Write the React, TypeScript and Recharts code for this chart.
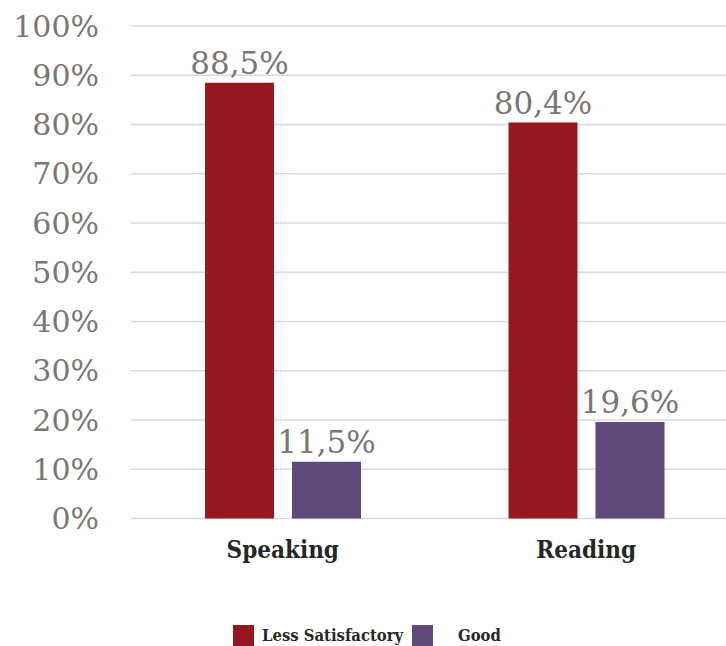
import { BarChart, Bar, XAxis, YAxis, CartesianGrid, LabelList } from "recharts";

const skills = ["Speaking", "Reading"];
const lessSatisfactory = [88.5, 80.4];
const good = [11.5, 19.6];
const yTicks = [0, 10, 20, 30, 40, 50, 60, 70, 80, 90, 100];

const series = [
  { key: "lessSatisfactory", name: "Less Satisfactory", color: "#95191F" },
  { key: "good", name: "Good", color: "#604A7B" },
];

const data = skills.map((skill, i) => ({
  skill,
  lessSatisfactory: lessSatisfactory[i],
  good: good[i],
}));

const serif = "'DejaVu Serif', 'Liberation Serif', serif";
const serifCondensed = "'DejaVu Serif Condensed', 'DejaVu Serif', serif";

const formatPercent = (v: number) => `${v.toString().replace(".", ",")}%`;

const App = () => {
  return (
    <div
      style={{
        position: "absolute",
        left: 0,
        top: 0,
        width: 726,
        height: 646,
        overflow: "hidden",
        background: "#fff",
      }}
    >
      <BarChart
        width={760}
        height={646}
        data={data}
        margin={{ top: 26, right: 22, bottom: 67.5, left: 0 }}
        barCategoryGap="24.3%"
        barGap={18}
        barSize={69}
      >
        <CartesianGrid
          vertical={false}
          stroke="#D9D9D9"
          strokeWidth={1.5}
        />
        <XAxis
          dataKey="skill"
          axisLine={false}
          tickLine={false}
          tickSize={0}
          tickMargin={22}
          height={60}
          tick={{
            fontSize: 24,
            fontFamily: serifCondensed,
            fontWeight: "bold",
            fill: "#262626",
          }}
        />
        <YAxis
          domain={[0, 100]}
          ticks={yTicks}
          interval={0}
          width={131}
          axisLine={false}
          tickLine={false}
          tickSize={0}
          tickMargin={32}
          tickFormatter={(v: number) => `${v}%`}
          tick={{ fontSize: 30, fontFamily: serif, fill: "#7A7676" }}
        />
        {series.map((s) => (
          <Bar
            key={s.key}
            dataKey={s.key}
            name={s.name}
            fill={s.color}
            isAnimationActive={false}
          >
            <LabelList
              dataKey={s.key}
              position="top"
              offset={9}
              formatter={(v: any) => formatPercent(Number(v))}
              style={{ fontSize: 31, fontFamily: serif, fill: "#7A7676" }}
            />
          </Bar>
        ))}
      </BarChart>

      {/* legend */}
      <div
        style={{
          position: "absolute",
          left: 233,
          top: 625,
          display: "flex",
          alignItems: "center",
          fontFamily: serifCondensed,
          fontWeight: "bold",
          fontSize: 16.5,
          color: "#262626",
          whiteSpace: "nowrap",
        }}
      >
        <span
          style={{ width: 21, height: 21, background: series[0].color }}
        />
        <span style={{ marginLeft: 8, width: 150 }}>{series[0].name}</span>
        <span
          style={{ width: 21, height: 21, background: series[1].color }}
        />
        <span style={{ marginLeft: 25 }}>{series[1].name}</span>
      </div>
    </div>
  );
};

export default App;
